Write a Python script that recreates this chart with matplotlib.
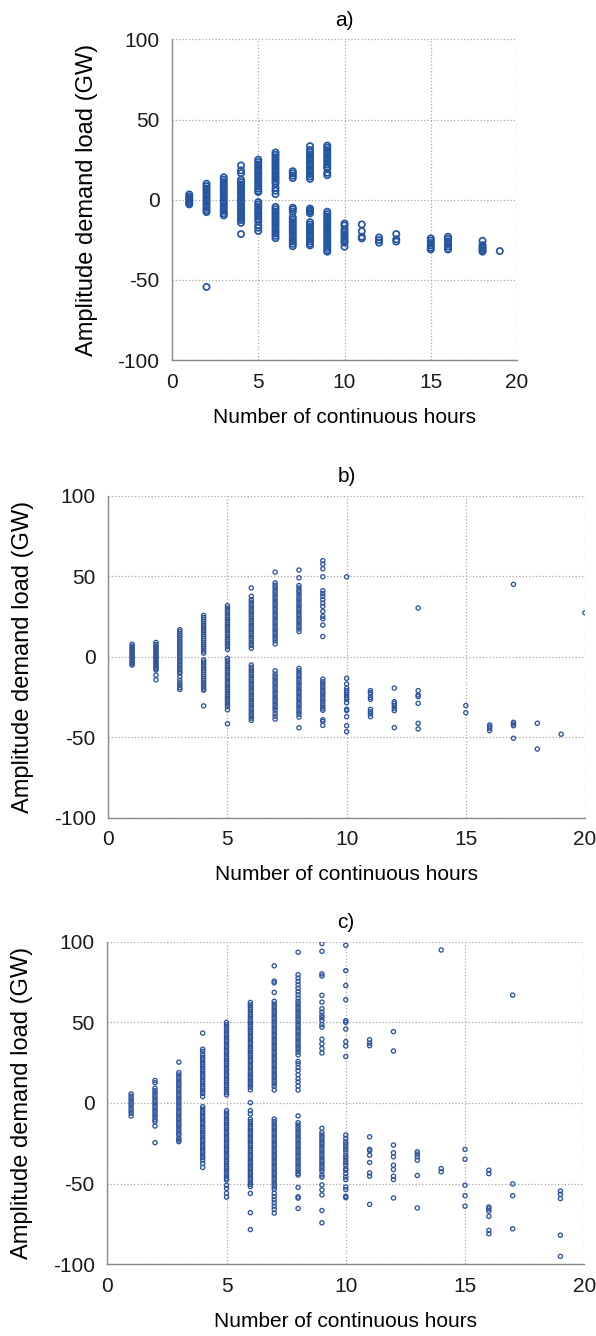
import matplotlib
matplotlib.use("Agg")
import matplotlib.pyplot as plt

plt.rcParams.update({
    "font.family": ["Liberation Sans", "DejaVu Sans"],
    "font.size": 14,
    "axes.unicode_minus": False,
})

# ── panel a) ──
A_HOURS = [1, 2, 3, 4, 5, 6, 7, 8, 9, 10, 11, 12, 13, 15, 16, 18, 19]
A_AMP = [
    [3.3, 2, 1, 0, -1, -2, -2.9],
    [10, 8.5, 7, 5.5, 4, 2.5, 1, -0.5, -2, -3.5, -5, -6.5, -7.7, -54.4],
    [14, 12.5, 11, 9.5, 8, 6.5, 5, 3.5, 2, 0.5, -1, -2.5, -4, -5.5, -7, -8.5, -9.8],
    [21.4, 18.3, 16.6, 12.5, 11, 9.5, 8, 6.5, 5, 3.5, 2, 0.5, -1, -2.5, -4, -5.5,
     -7, -8.5, -10, -11.5, -12.7, -14.4, -21.4],
    [25, 23.5, 22, 20.5, 19, 17.5, 16, 14.5, 13, 11.5, 10, 8.5, 7, 5.5, 4.8,
     -1.5, -3, -4.5, -6, -7.5, -9, -10.5, -12, -13.5, -16, -17.5, -19.5],
    [29.5, 28, 26.5, 25, 23.5, 22, 20.5, 19, 17.5, 16, 14.5, 13, 11.5, 10, 7.5, 5.6, 3.5,
     -4.5, -6, -7.5, -9, -10.5, -12, -13.5, -15, -16.5, -18, -19.5, -21, -22.5, -24],
    [17.8, 16.5, 15, 13.5, -5, -6, -7.5, -11, -12.5, -14, -15.5, -17, -18.5, -20,
     -21.5, -23, -24.5, -26, -27.5, -29],
    [33.4, 31, 29.5, 28, 26.5, 25, 23.5, 22, 20.5, 19, 17.5, 16, 14.5, 13,
     -5.5, -6.5, -7.5, -8.5, -14, -15.5, -17, -18.5, -20, -21.5, -23, -24.5, -26, -27.5, -28.5],
    [33.8, 32.5, 31, 29.5, 28, 26.5, 25, 23.5, 22, 20.5, 19.5, 16.8, 15.3,
     -7.5, -9, -10.5, -12, -13.5, -15, -16.5, -18, -19.5, -21, -22.5, -24, -25.5,
     -27, -28.5, -30, -31.5, -32.4],
    [-14.8, -16, -18.5, -20, -21.5, -23, -24.5, -26, -26.8, -29.3],
    [-15.4, -19.6, -23.1, -24.1],
    [-23.5, -25.2, -26.8],
    [-21.4, -24.7, -26.1],
    [-24.1, -25.5, -27, -28.5, -30, -31],
    [-23.1, -24.5, -26, -27.5, -29, -30.5, -31],
    [-25.6, -28.3, -29.5, -30.5, -31.5, -32.4],
    [-32],
]

# ── panel b) ──
B_HOURS = [1, 2, 3, 4, 5, 6, 7, 8, 9, 10, 11, 12, 13, 15, 16, 17, 18, 19, 20]
B_AMP = [
    [7.7, 6.5, 5.5, 4.5, 3.5, 2.5, 1.5, 0.5, -0.5, -1.5, -2.5, -3.5, -4.5, -5.2],
    [8.8, 7.5, 6.5, 5.5, 4.5, 3.5, 2.5, 1.5, 0.5, -0.5, -1.5, -2.5, -3.5, -4.5,
     -5.5, -6.5, -7.5, -8.3, -11.5, -14.4],
    [16.7, 15.5, 14.2, 13, 11.7, 10.5, 9.2, 8, 6.7, 5.5, 4.2, 3, 1.7, 0.5, -0.7,
     -2, -3.2, -4.5, -5.7, -7, -8.2, -9.5, -10.4, -12.5, -14.6, -16.3, -17.7, -19.2, -20.4],
    [25.6, 24.3, 23, 21.7, 20.4, 19.1, 17.8, 16.5, 15.2, 13.9, 12.6, 11.3, 10, 8.7,
     7.4, 6.1, 4.8, 3.5, 2.2, -2, -3.3, -4.6, -5.9, -7.2, -8.5, -9.8, -11.1, -12.4,
     -13.7, -15, -16.3, -17.6, -18.9, -20.2, -20.8, -30.6],
    [31.7, 30.2, 28.7, 27.2, 25.7, 24.2, 22.7, 21.2, 19.7, 18.2, 16.7, 15.2, 13.7,
     12.2, 10.7, 9.2, 7.7, 6.2, 4.5, -1, -2.5, -4, -5.5, -7, -8.5, -10, -11.5, -13,
     -14.5, -16, -17.5, -19, -20.5, -22, -23.5, -25, -26.5, -28, -29.5, -31, -33, -41.7],
    [42.7, 37.5, 35.4, 33.9, 32.4, 30.9, 29.4, 27.9, 26.4, 24.9, 23.4, 21.9, 20.4,
     18.9, 17.4, 15.9, 14.4, 12.9, 11.4, 9.9, 8.4, 6.9, 5.2, -5.2, -6.7, -8.2, -9.7,
     -11.2, -12.7, -14.2, -15.7, -17.2, -18.7, -20.2, -21.7, -23.2, -24.7, -26.2,
     -27.7, -29.2, -30.7, -32.2, -33.7, -35.2, -36.7, -38.2, -39.6],
    [52.5, 45.8, 44.3, 42.8, 41.3, 39.8, 38.3, 36.8, 35.3, 33.8, 32.3, 30.8, 29.3,
     27.8, 26.3, 24.8, 23.3, 21.8, 20.3, 18.8, 17.3, 15.8, 14.3, 12.8, 11.3, 9.8, 7.9,
     -8.8, -10.8, -12.3, -13.8, -15.3, -16.8, -18.3, -19.8, -21.3, -22.8, -24.3,
     -25.8, -27.3, -28.8, -30.3, -31.8, -33.3, -35.3, -37, -38.8],
    [53.8, 49, 44.2, 42.7, 41.2, 39.7, 38.2, 36.7, 35.2, 33.7, 32.2, 30.7, 29.2,
     27.7, 26.2, 24.7, 23.2, 21.7, 20.2, 18.7, 17.2, 15.6, -7.3, -8.8, -10.3, -11.8,
     -13.3, -14.8, -16.3, -17.8, -19.3, -20.8, -22.3, -23.8, -25.3, -26.8, -28.3,
     -29.8, -31.3, -32.8, -34.3, -35.8, -37.5, -44.2],
    [59.6, 57.5, 54.6, 49.6, 41, 39.2, 37.5, 35.4, 33.3, 31.2, 28.1, 25, 23.5, 19.6,
     12.5, -14, -15.6, -17.1, -18.6, -20.1, -21.6, -23.1, -24.6, -26.1, -27.6, -29.1,
     -30.6, -32.1, -33.3, -39.2, -40.2, -42.7],
    [49.6, -13.5, -17, -19.7, -21.1, -22.4, -23.8, -25.3, -26.5, -28.6, -32.7, -33.5,
     -37.3, -42.9, -46.6],
    [-21.1, -22.4, -23.2, -25.3, -26.5, -32.7, -34.2, -35.6, -37.3],
    [-19.5, -28, -29, -30.4, -32.1, -33.5, -44.1],
    [30.2, -21.1, -23.8, -24.8, -29, -41.4, -44.9],
    [-30.4, -34.8],
    [-42.4, -43.5, -44.5, -46],
    [44.9, -40.8, -41.8, -42.9, -50.7],
    [-41.4, -57.4],
    [-48.2],
    [27.3],
]

# ── panel c) ──
C_HOURS = [1, 2, 3, 4, 5, 6, 7, 8, 9, 10, 11, 12, 13, 14, 15, 16, 17, 19]
C_AMP = [
    [5.6, 4.1, 2.6, 1.1, -0.4, -1.9, -3.4, -4.9, -6.4, -8.1],
    [13.9, 12.5, 9.1, 7.6, 6.1, 4.6, 3.1, 1.6, 0.1, -1.4, -2.9, -4.4, -5.9, -7.4,
     -8.9, -10.4, -11.6, -14.3, -24.6],
    [25.3, 18.8, 17.3, 15.8, 14.3, 12.8, 11.3, 9.8, 8.3, 6.8, 5.3, 3.8, 2.3, 0.8,
     -0.7, -2.2, -3.7, -5.2, -6.7, -8.2, -9.7, -11.2, -12.7, -14.2, -15.7, -17.2,
     -18.7, -19.9, -21.9, -23, -24],
    [43.3, 33.3, 31.9, 29.8, 28.3, 26.8, 25.3, 23.8, 22.3, 20.8, 19.3, 17.8, 16.3,
     14.8, 13.3, 11.8, 10.3, 8.8, 7.3, 5.8, 3.9, -2.3, -3.8, -5.3, -6.8, -8.3, -9.8,
     -11.3, -12.8, -14.3, -15.8, -17.3, -18.8, -20.3, -21.8, -23.3, -24.8, -26.3,
     -27.8, -29.3, -30.8, -32.3, -33.8, -35.4, -37.5, -40],
    [49.9, 48.4, 46.9, 45.4, 43.9, 42.4, 40.9, 39.4, 37.9, 36.4, 34.9, 33.4, 31.9,
     30.4, 28.9, 27.4, 25.9, 24.4, 22.9, 21.4, 19.9, 18.4, 16.9, 15.4, 13.9, 12.4,
     10.9, 9.4, 7.9, 6.4, 5, -4.8, -6.3, -7.8, -9.3, -10.8, -12.3, -13.8, -15.3,
     -16.8, -18.3, -19.8, -21.3, -22.8, -24.3, -25.8, -27.3, -28.8, -30.3, -31.8,
     -33.3, -34.8, -36.3, -37.8, -39.3, -40.8, -42.3, -43.8, -45.3, -46.8, -47.8,
     -51, -53, -56, -58.4],
    [62.3, 60.8, 59.3, 57.8, 56.3, 54.8, 53.3, 51.8, 50.3, 48.8, 47.3, 45.8, 44.3,
     42.8, 41.3, 39.8, 38.3, 36.8, 35.3, 33.8, 32.3, 30.8, 29.3, 27.8, 26.3, 24.8,
     23.3, 21.8, 20.3, 18.8, 17.3, 15.8, 14.3, 12.8, 11.3, 9.8, 8.1, 0.2, -4.8, -6.8,
     -10, -11.5, -13, -14.5, -16, -17.5, -19, -20.5, -22, -23.5, -25, -26.5, -28,
     -29.5, -31, -32.5, -34, -35.5, -37, -38.5, -40, -41.5, -43, -44.5, -46, -47.5,
     -49, -50.5, -51.8, -56.1, -68, -78.5],
    [85, 75.5, 74.5, 68.5, 63, 61.3, 59.8, 58.3, 56.8, 55.3, 53.8, 52.3, 50.8, 49.3,
     47.8, 46.3, 44.8, 43.3, 41.8, 40.3, 38.8, 37.3, 35.8, 34.3, 32.8, 31.3, 29.8,
     28.3, 26.8, 25.3, 23.8, 22.3, 20.8, 19.3, 17.8, 16.3, 14.8, 13.3, 11.8, 10.3, 8,
     -10, -11.5, -13, -14.5, -16, -17.5, -19, -20.5, -22, -23.5, -25, -26.5, -28,
     -29.5, -31, -32.5, -34, -35.5, -37, -38.5, -40, -41.5, -43, -44.5, -46, -47.5,
     -49, -50.5, -52, -53.5, -56, -58, -60, -62, -64, -66, -68.3],
    [93.4, 79.5, 77.4, 75.3, 73.2, 71.1, 69, 67, 65, 63, 61.5, 60, 58.5, 57, 55.5,
     54, 52.5, 51, 49.5, 48, 46.5, 45, 43.5, 42, 40.5, 39, 37.5, 36, 34.5, 33, 31.5,
     29.8, 25.7, 24.2, 22, 20, 17.5, 15, 13, 10.5, 8, -8, -12.2, -13.7, -15.2, -16.7,
     -18.2, -19.7, -21.2, -22.7, -24.2, -25.7, -27.2, -28.7, -30.2, -31.7, -33.2,
     -34.7, -36.2, -37.7, -39.2, -40.7, -42.2, -43.7, -44.7, -52.4, -58.2, -59, -65.4],
    [98.8, 94, 80, 78.7, 66.7, 62.5, 58.4, 56.3, 54.3, 52.8, 51.1, 48.6, 47, 39.5,
     36.6, 33.7, 31, -15.7, -18.4, -19.9, -21.4, -22.9, -24.4, -25.9, -27.4, -28.9,
     -30.4, -31.9, -33.4, -34.9, -36.4, -37.9, -39.4, -40.9, -42.4, -44.7, -46,
     -50.8, -53.9, -57, -66.7, -74.3],
    [97.7, 82, 72.8, 64, 51, 50, 45.8, 38, 35.3, 28.8, -19.9, -22, -24.1, -25.5,
     -27.2, -28.8, -30.3, -32.4, -33.8, -35.5, -37.1, -38.6, -40.7, -41.7, -43.8,
     -45.9, -47.5, -52.1, -53.7, -57.9, -58.7],
    [39.2, 37.1, 35.5, -21, -28.8, -29.7, -32.4, -36.9, -43.4, -45.4, -62.9],
    [44.2, 32.2, -26.1, -30.9, -33.4, -38.6, -41.3, -45.4, -47.5, -58.9],
    [-30.3, -31.7, -33.4, -35.5, -45, -65.1],
    [94.8, -40.7, -42.7],
    [-28.8, -34.9, -51, -57.5, -64],
    [-41.7, -43.8, -64.5, -65.6, -67, -70.3, -79, -81.1],
    [66.8, -50.2, -57.5, -78],
    [-54.6, -56.6, -59.3, -82, -95.1],
]

PANELS = [
    ("a)", A_HOURS, A_AMP, [0.2886, 0.7305, 0.5789, 0.2400], 20, "#2455a3", 1.25),
    ("b)", B_HOURS, B_AMP, [0.1817, 0.3880, 0.7998, 0.2410], 9, "#2f54a0", 0.95),
    ("c)", C_HOURS, C_AMP, [0.1800, 0.0537, 0.8003, 0.2415], 9, "#2f54a0", 0.95),
]

fig = plt.figure(figsize=(5.96, 13.36), dpi=100)

for title, hours, amps, rect, size, color, lw in PANELS:
    ax = fig.add_axes(rect)
    for h, vals in zip(hours, amps):
        ax.scatter([h] * len(vals), vals, s=size, facecolors="none",
                   edgecolors=color, linewidths=lw, zorder=3)

    ax.set_xlim(0, 20)
    ax.set_ylim(-100, 100)
    ax.set_xticks([0, 5, 10, 15, 20])
    ax.set_yticks([-100, -50, 0, 50, 100])
    ax.tick_params(length=0, labelsize=15, pad=9, colors="#1a1a1a")
    ax.grid(True, linestyle=":", color="#a8a8a8", linewidth=0.9)
    for side in ("top", "right"):
        ax.spines[side].set_visible(False)
    for side in ("left", "bottom"):
        ax.spines[side].set_color("#8a8a8a")
        ax.spines[side].set_linewidth(1.0)

    ax.set_title(title, fontsize=15, pad=10)
    ax.set_xlabel("Number of continuous hours", fontsize=15)
    ax.set_ylabel("Amplitude demand load (GW)", fontsize=17)
    ax.xaxis.label.set_va("center")
    ax.yaxis.label.set_va("center")
    height_px = rect[3] * 1336
    width_px = rect[2] * 596
    ax.xaxis.set_label_coords(0.5, -57 / height_px)
    ax.yaxis.set_label_coords(-85 / width_px, 0.5)

fig.savefig("out.png", dpi=100)
